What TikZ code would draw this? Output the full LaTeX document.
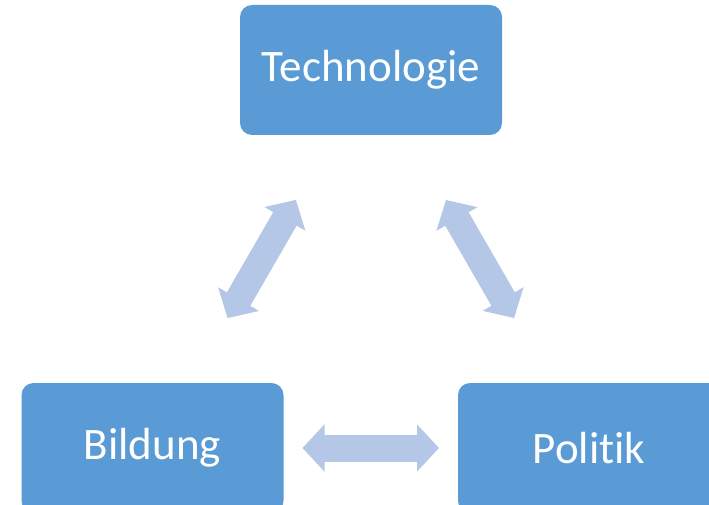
\documentclass[tikz,border=0pt]{standalone}
\usepackage{fontspec}
\setmainfont[Ligatures={NoCommon}]{Carlito}
\usetikzlibrary{arrows.meta}
\definecolor{boxblue}{HTML}{5B9BD5}
\definecolor{arrowblue}{HTML}{B4C7E7}
\tikzset{
	box/.style={fill=boxblue, rounded corners=12pt, minimum width=262pt, minimum height=130pt,
		text=white, font=\fontsize{45}{54}\selectfont, inner sep=0pt},
	link/.style={arrowblue, line width=27pt, {Triangle[width=46pt,length=22pt]}-{Triangle[width=46pt,length=22pt]},
		shorten <=150pt, shorten >=150pt}
}
\begin{document}
\begin{tikzpicture}[x=1pt,y=-1pt]
		\useasboundingbox (0,0) rectangle (709,505);
		\clip (0,0) rectangle (709,505);

		\node[box] (tech) at (371,70) {Technologie};
		\node[box] (bild) at (152.5,448) {Bildung};
		\node[box] (pol) at (589,448) {Politik};

		\draw[link] (bild.center) -- (tech.center);
		\draw[link] (tech.center) -- (pol.center);
		\draw[link] (bild.center) -- (pol.center);
	\end{tikzpicture}
\end{document}
